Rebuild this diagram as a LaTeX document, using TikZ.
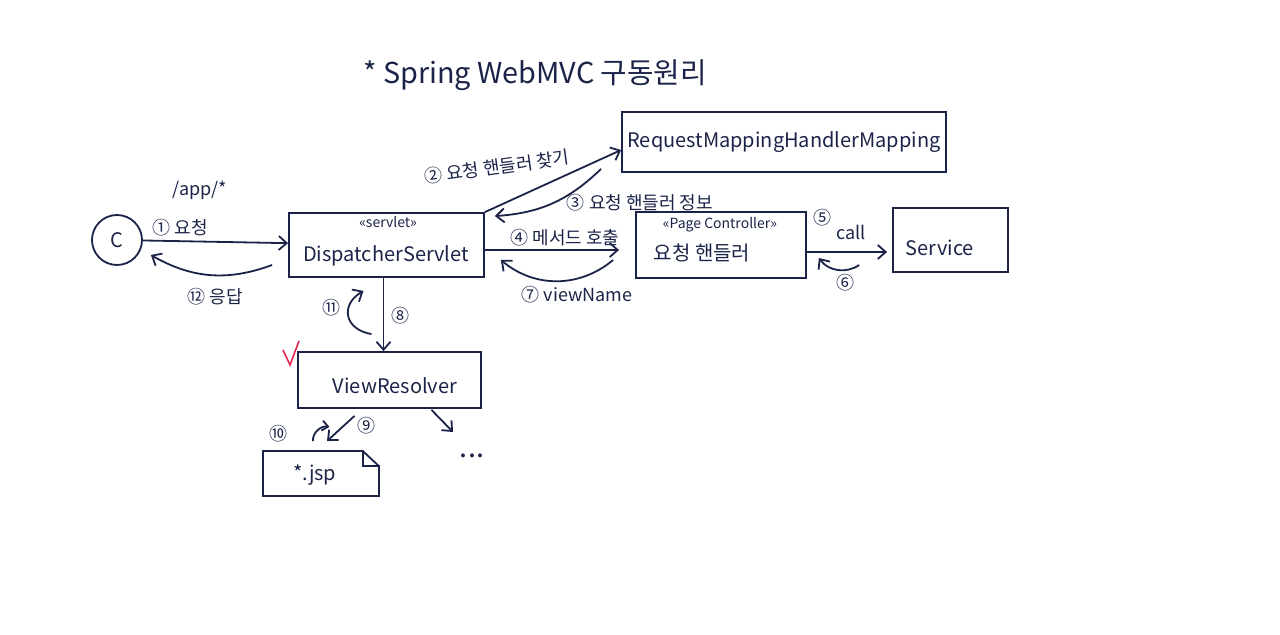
\documentclass[tikz,border=0pt]{standalone}
\usepackage{fontspec}
\setmainfont{Noto Sans CJK KR}
\usepackage{tikz}
\usetikzlibrary{arrows.meta}
\definecolor{ink}{HTML}{1B2448}
\definecolor{tick}{HTML}{E2264D}

\begin{document}
\begin{tikzpicture}[x=0.5pt,y=-0.5pt,ink,line width=0.9pt,font=\normalsize,
  blk/.style n args={2}{draw,rectangle,minimum width=#1,minimum height=#2,inner sep=0pt},
  lbl/.style={inner sep=1pt,font=\small},
  stereo/.style={inner sep=0pt,font=\scriptsize},
  arr/.style={-{Straight Barb[length=4pt,width=7pt]}},
  arrsmall/.style={-{Straight Barb[length=3pt,width=5pt]}}]
\useasboundingbox (0,0) rectangle (1280,635);
\node[font=\Large] (title) at (535,75) {* Spring WebMVC 구동원리};
% boxes
\node[draw,circle,minimum size=25pt] (c) at (117,240) {C};
\node[blk={97.5pt}{32pt}] (ds) at (386.5,245) {};
\node[stereo] (dsst) at (388,222) {<<servlet>>};
\node (dsname) at (386,256) {DispatcherServlet};
\node[blk={162pt}{30pt}] (rm) at (784,142) {RequestMappingHandlerMapping};
\node[blk={85pt}{33pt}] (pc) at (721,245) {};
\node[stereo] (pcst) at (720,225) {<<Page Controller>>};
\node (pcname) at (702,253) {요청 핸들러};
\node[blk={57.5pt}{32pt}] (svc) at (950.5,240) {};
\node (svcname) at (940,248) {Service};
\node[blk={91.5pt}{28pt}] (vr) at (389.5,380) {};
\node (vrname) at (395,386) {ViewResolver};
\node[minimum width=57pt,minimum height=21.5pt,inner sep=0pt] (jsp) at (321,473.5) {};
\node (jspname) at (315,475) {*.jsp};
\draw (jsp.south west) -- (jsp.north west) -- ([xshift=-8pt]jsp.north east)
   -- ([xshift=-8pt,yshift=-7.5pt]jsp.north east) -- ([yshift=-7.5pt]jsp.north east)
   -- (jsp.south east) -- cycle;
\draw ([xshift=-8pt]jsp.north east) -- ([yshift=-7.5pt]jsp.north east);
\node[font=\Large] (more) at (472,456) {...};
\coordinate (moreup) at (453,432);
\draw[tick,line width=0.8pt] (283,350) -- (290,365) -- (299,341);
% labels
\node[lbl] (app) at (200,190) {/app/*};
\node[lbl] (req) at (180,228) {① 요청};
\node[lbl] (resp) at (215,297) {⑫ 응답};
\node[lbl,rotate=8] (find) at (497,167) {② 요청 핸들러 찾기};
\node[lbl] (info) at (640,203) {③ 요청 핸들러 정보};
\node[lbl] (invoke) at (565,238) {④ 메서드 호출};
\node[lbl] (vname) at (577,295) {⑦ viewName};
\node[lbl] (call) at (851,232) {call};
\foreach \i/\t/\x/\y in {5/⑤/822/218,6/⑥/845/283,8/⑧/400/316,9/⑨/366/426,10/⑩/278/434,11/⑪/331/308} {
   \node[lbl] (n\i) at (\x,\y) {\t};
}
% arrows
\draw[arr] (c) -- (ds);
\draw[arr] ([shift={(-16,20)}]ds.west) to[bend left=25] ([shift={(8,15)}]c.east);
\draw[arr] (ds.north east) -- ([yshift=-4pt]rm.west);
\draw[arr] ([shift={(-20,-4)}]rm.south west) to[bend left=20] ([shift={(10,4)}]ds.north east);
\draw[arr] ([yshift=-2.5pt]ds.east) -- ([shift={(-16,5)}]pc.west);
\draw[arr] ([shift={(-22,15)}]pc.west) to[bend left=40] ([shift={(16,15)}]ds.east);
\draw[arr] ([yshift=-3.5pt]pc.east) -- ([shift={(-5,12)}]svc.west);
\draw[arr] ([shift={(-33,25)}]svc.west) to[bend left=45] ([shift={(12,13)}]pc.east);
\draw[arr] ([xshift=-1.5pt]ds.south) -- ([xshift=-3pt]vr.north);
\draw[arr] ([shift={(-18,-17)}]vr.north) to[bend left=70,looseness=1.6] ([shift={(-23,13)}]ds.south);
\draw[arr] ([shift={(-35,7)}]vr.south) -- ([shift={(6,-10)}]jsp.north);
\draw[arrsmall] ([shift={(-8,-10)}]jsp.north) to[out=95,in=170] ([shift={(-60,18)}]vr.south);
\draw[arr] ([shift={(42,1)}]vr.south) -- (moreup);
\end{tikzpicture}
\end{document}
